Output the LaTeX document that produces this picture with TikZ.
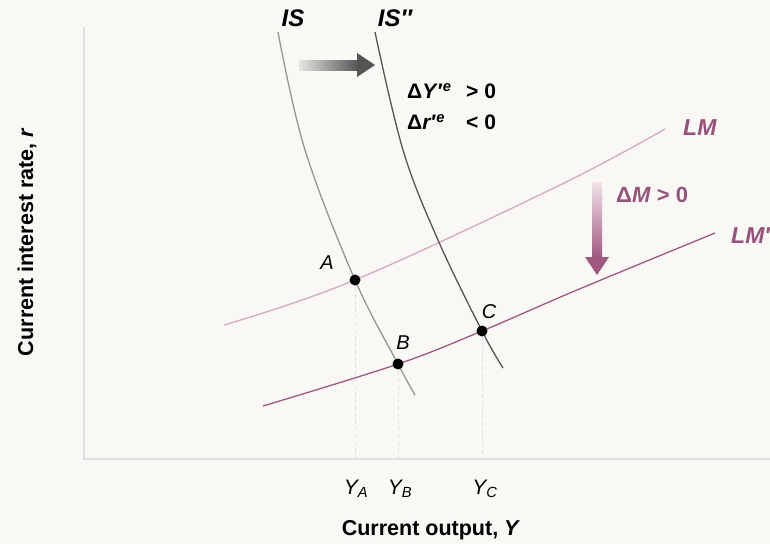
\documentclass[tikz,border=0pt]{standalone}
\usepackage{fontspec}
\setmainfont{Liberation Sans}
\definecolor{bgc}{RGB}{249,248,245}
\definecolor{axisc}{RGB}{224,224,228}
\definecolor{lmlight}{RGB}{214,168,192}
\definecolor{lmdark}{RGB}{160,88,128}
\definecolor{lmtext}{RGB}{150,82,122}
\definecolor{isc}{RGB}{150,150,152}
\definecolor{isdc}{RGB}{85,85,88}
\tikzset{
  curvelabel/.style={font=\fontsize{24}{28}\selectfont\bfseries\itshape, inner sep=0pt},
  lmlabel/.style={font=\fontsize{23}{26}\selectfont\bfseries\itshape, text=lmtext, inner sep=0pt},
  ptlabel/.style={font=\fontsize{20}{23}\selectfont\itshape, inner sep=0pt},
  axlabel/.style={font=\fontsize{21.5}{24}\selectfont\bfseries, inner sep=0pt},
  dot/.style={circle, fill=black, inner sep=0pt, minimum size=11pt},
  guide/.style={dashed, draw=axisc, line width=0.9pt, dash pattern=on 4pt off 3pt}
}
\begin{document}
\begin{tikzpicture}[x=1pt,y=-1pt]
\fill[bgc] (0,0) rectangle (770,544);
\useasboundingbox (0,0) rectangle (770,544);
% axes
\coordinate (O) at (84,459);
\coordinate (Ytop) at (84,27);
\coordinate (Xend) at (770,459);
\draw[axisc, line width=2pt] (Ytop) -- (O) -- (Xend);
% key points
\coordinate (A) at (355,280);
\coordinate (B) at (398,364);
\coordinate (C) at (482,331);
% guides
\coordinate (Ab) at (355,459);
\coordinate (Bb) at (398,459);
\coordinate (Cb) at (482,459);
\draw[guide] (A) -- (Ab);
\draw[guide] (B) -- (Bb);
\draw[guide] (C) -- (Cb);
% LM curves
\draw[lmlight, line width=1.3pt] plot[smooth, tension=0.6] coordinates {(224,325) (A) (560,185) (665,129)};
\draw[lmdark, line width=1.3pt] plot[smooth, tension=0.6] coordinates {(263,406) (B) (C) (577,290) (715,233)};
% IS curves
\draw[isc, line width=1.3pt] plot[smooth, tension=0.6] coordinates {(278,32) (305,150) (A) (B) (415,395)};
\draw[isdc, line width=1.3pt] plot[smooth, tension=0.6] coordinates {(375,32) (403,150) (438,240) (C) (503,368)};
% dots
\node[dot] (dA) at (A) {};
\node[dot] (dB) at (B) {};
\node[dot] (dC) at (C) {};
\node[ptlabel] (lA) at (327,263) {A};
\node[ptlabel] (lB) at (403,343) {B};
\node[ptlabel] (lC) at (489,312) {C};
% curve labels
\node[curvelabel] (lIS) at (293,18) {IS};
\node[curvelabel] (lIS2) at (395,18) {IS″};
\node[lmlabel, anchor=west] (lLM) at (683,128) {LM};
\node[lmlabel, anchor=west] (lLM2) at (731,236) {LM′};
% shift arrows
\shade[left color=isc!20!bgc, right color=isdc] (299,60) rectangle (358,70);
\fill[isdc] (357,53) -- (375,65) -- (357,77) -- cycle;
\shade[top color=lmlight!25!bgc, bottom color=lmdark] (592,182) rectangle (602,258);
\fill[lmdark] (585,257) -- (597,275) -- (609,257) -- cycle;
% texts
\node[font=\fontsize{21}{31}\selectfont\bfseries, align=left, anchor=north west, inner sep=0pt] (eq) at (407,83)
  {\makebox[59pt][l]{Δ\textit{Y}′\textsuperscript{\textit{e}}}> 0\\\makebox[59pt][l]{Δ\textit{r}′\textsuperscript{\textit{e}}}< 0};
\node[font=\fontsize{22}{25}\selectfont\bfseries, text=lmtext, anchor=west, inner sep=0pt] (dM) at (616,195) {Δ\textit{M} > 0};
% axis ticks
\node[ptlabel, font=\fontsize{21}{24}\selectfont\itshape] (tA) at (356,489) {Y\textsubscript{A}};
\node[ptlabel, font=\fontsize{21}{24}\selectfont\itshape] (tB) at (400,489) {Y\textsubscript{B}};
\node[ptlabel, font=\fontsize{21}{24}\selectfont\itshape] (tC) at (485,489) {Y\textsubscript{C}};
% axis labels
\node[axlabel] (xl) at (431,530) {Current output, \textit{Y}};
\node[axlabel, rotate=90] (yl) at (27,242) {Current interest rate, \textit{r}};
\end{tikzpicture}
\end{document}
